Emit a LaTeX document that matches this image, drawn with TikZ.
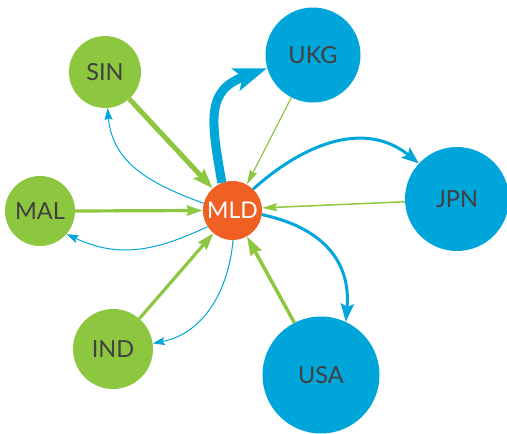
\documentclass[tikz,border=0pt]{standalone}
\usepackage{fontspec}
\setmainfont{Lato}
\usetikzlibrary{arrows.meta}
\definecolor{cgreen}{RGB}{141,198,63}
\definecolor{cblue}{RGB}{0,166,218}
\definecolor{corange}{RGB}{241,96,35}
\definecolor{ctext}{RGB}{64,64,64}
\tikzset{
  country/.style={circle, inner sep=0pt, text=ctext, font=\fontsize{23.5}{25}\selectfont},
  greennode/.style={country, fill=cgreen},
  bluenode/.style={country, fill=cblue},
  hub/.style={circle, inner sep=0pt, fill=corange, text=white, font=\fontsize{23}{25}\selectfont},
  gedge/.style={draw=cgreen},
  bedge/.style={draw=cblue},
}
\begin{document}
\begin{tikzpicture}[x=1pt,y=1pt]
\useasboundingbox (0,0) rectangle (507,-434);
\node[hub, minimum size=59pt] (MLD) at (232.5,-210.5) {MLD};
\node[greennode, minimum size=72pt] (SIN) at (105,-72) {SIN};
\node[greennode, minimum size=70pt] (MAL) at (40,-211) {MAL};
\node[greennode, minimum size=80pt] (IND) at (113,-349) {IND};
\node[bluenode, minimum size=95pt] (UKG) at (313,-55) {UKG};
\node[bluenode, minimum size=104pt] (JPN) at (457,-199) {JPN};
\node[bluenode, minimum size=117pt] (USA) at (321,-375) {USA};
% green inbound edges
\draw[gedge, line width=5pt, -{Stealth[length=20pt,width=14pt,inset=3pt]}] (SIN.-48) -- (MLD.132);
\draw[gedge, line width=3.2pt, -{Stealth[length=16pt,width=10pt,inset=2pt]}] (MAL.east) -- (MLD.west);
\draw[gedge, line width=3.2pt, -{Stealth[length=17pt,width=11pt,inset=2pt]}] (IND.49) -- (MLD.-130);
\draw[gedge, line width=3.5pt, -{Stealth[length=19pt,width=12pt,inset=2pt]}] (USA.117) -- (MLD.-61);
\draw[gedge, line width=1.2pt, -{Stealth[length=15pt,width=8pt,inset=2pt]}] (UKG.-117) -- (MLD.61);
\draw[gedge, line width=1.5pt, -{Stealth[length=15pt,width=8pt,inset=2pt]}] (JPN.183) -- (MLD.5);
% blue outbound edges
\draw[bedge, line width=9pt, -{Stealth[length=33pt,width=23pt,inset=7pt]}] (MLD.111) to[out=100, in=200, looseness=1.35] (UKG.196);
\draw[bedge, line width=3pt, -{Stealth[length=17pt,width=13pt,inset=3pt]}] (MLD.46) to[out=42, in=141, looseness=1.05] (JPN.137);
\draw[bedge, line width=3pt, -{Stealth[length=18pt,width=13pt,inset=3pt]}] (MLD.-8) to[out=-12, in=85, looseness=1.15] (USA.65);
\draw[bedge, line width=1pt, -{Stealth[length=12pt,width=8pt,inset=2pt]}] (MLD.166) to[out=160, in=-85, looseness=1.05] (SIN.-86);
\draw[bedge, line width=1pt, -{Stealth[length=12pt,width=8pt,inset=2pt]}] (MLD.213) to[out=205, in=-25, looseness=1.05] (MAL.-41);
\draw[bedge, line width=1pt, -{Stealth[length=12pt,width=8pt,inset=2pt]}] (MLD.-89) to[out=-95, in=11, looseness=1.0] (IND.8);
\end{tikzpicture}
\end{document}
